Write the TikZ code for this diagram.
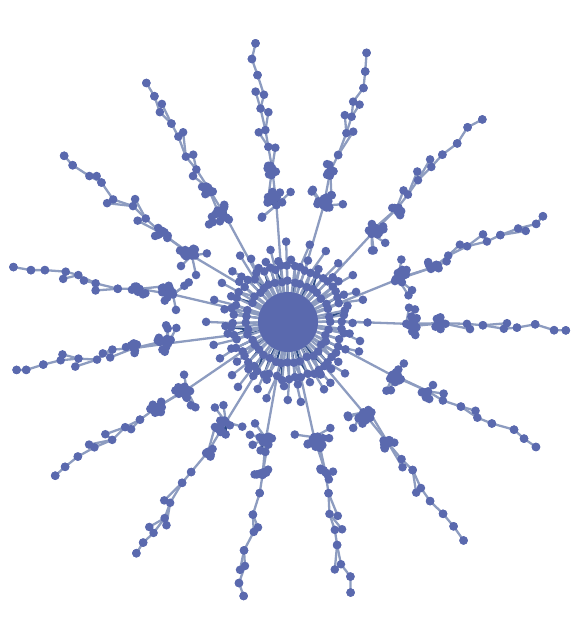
\documentclass[tikz,border=0pt]{standalone}
\usetikzlibrary{calc}
\definecolor{dotc}{HTML}{5A69AE}
\definecolor{edgel}{HTML}{8D9CC0}
\definecolor{edged}{HTML}{2D4C88}
\tikzset{
  dot/.style={circle,fill=dotc,draw=none,inner sep=0pt,minimum size=8.6pt},
  coredisk/.style={circle,fill=dotc,draw=none,inner sep=0pt,minimum size=60pt},
  ledge/.style={draw=edgel,line width=2.3pt},
  dedge/.style={draw=edged,line width=2pt},
}
\begin{document}
\begin{tikzpicture}[x=1pt,y=1pt]
\useasboundingbox (0,0) rectangle (583,623);
\pgfmathsetseed{2024}
\coordinate (C) at (288,301);
% ---------- pass 1: positions and edges ----------
\foreach \i in {0,...,39}{
  \pgfmathsetmacro\ag{\i*9+rand*2}
  \pgfmathsetmacro\rd{41+rand*1.5}
  \pgfmathtruncatemacro\dk{rnd<0.4}
  \coordinate (ra\i) at ($(C)+(\ag:\rd)$);
  \ifnum\dk=1 \draw[dedge] (C) -- (ra\i);
  \else \draw[ledge] (C) -- (ra\i);\fi
}
\foreach \j in {0,...,55}{
  \pgfmathsetmacro\ag{\j/56*360+rand*1.5}
  \pgfmathsetmacro\rd{56+rand*2.5}
  \pgfmathtruncatemacro\n{mod(round(\j/56*40),40)}
  \pgfmathtruncatemacro\dk{rnd<0.4}
  \coordinate (rb\j) at ($(C)+(\ag:\rd)$);
  \ifnum\dk=1 \draw[dedge] (ra\n) -- (rb\j);
  \else \draw[ledge] (ra\n) -- (rb\j);\fi
  \draw[ledge] (C) -- (rb\j);
}
\foreach \j in {0,...,29}{
  \pgfmathsetmacro\ag{\j*12+rand*4}
  \pgfmathsetmacro\rd{63+rand*2}
  \pgfmathtruncatemacro\n{mod(round(\ag/360*56)+560,56)}
  \coordinate (rc\j) at ($(C)+(\ag:\rd)$);
  \draw[ledge] (rb\n) -- (rc\j);
}
\foreach \i in {0,...,27}{
  \pgfmathsetmacro\ag{\i*360/28+rand*5}
  \pgfmathsetmacro\rd{73+rnd*9}
  \pgfmathtruncatemacro\n{mod(round(\ag/360*56)+560,56)}
  \coordinate (o\i) at ($(C)+(\ag:\rd)$);
  \draw[ledge] (rb\n) -- (o\i);
}
\foreach \ang [count=\k] in {-1,-26,-51,-77,-100,-123,-147,-170,168,144,121,97,73,47,22}{
  \pgfmathtruncatemacro\n{mod(round(\ang/360*56)+560,56)}
  \pgfmathsetmacro\rad{119+rand*3}
  \pgfmathsetmacro\off{rand*3}
  \path (C) ++(\ang:\rad) ++(\ang+90:\off) coordinate (A\k);
  \draw[ledge] (rb\n) -- (A\k);
  \foreach \i in {1,...,11}{
    \pgfmathsetmacro\ag{rnd*360}
    \pgfmathsetmacro\rd{2+rnd*7}
    \coordinate (A\k-\i) at ($(A\k)+(\ang:5)+(\ag:\rd)$);
    \draw[dedge] (A\k) -- (A\k-\i);
  }
  \foreach \i in {1,2,3}{
    \pgfmathsetmacro\ag{\ang+(2*(rnd<0.5)-1)*(45+rnd*95)}
    \pgfmathsetmacro\rd{14+rnd*6}
    \coordinate (S\k-\i) at ($(A\k)+(\ag:\rd)$);
    \draw[ledge] (A\k) -- (S\k-\i);
  }
  \pgfmathsetmacro\rad{155+rand*3}
  \pgfmathsetmacro\off{rand*4}
  \path (C) ++(\ang:\rad) ++(\ang+90:\off) coordinate (B\k);
  \draw[ledge] (A\k) -- (B\k);
  \draw[ledge] (A\k-1) -- (B\k);
  \foreach \i in {1,...,7}{
    \pgfmathsetmacro\ag{rnd*360}
    \pgfmathsetmacro\rd{2+rnd*6}
    \coordinate (B\k-\i) at ($(B\k)+(\ag:\rd)$);
    \draw[dedge] (B\k) -- (B\k-\i);
  }
  \foreach \rr [count=\c] in {176,195,213,230,248,265,278}{
    \pgfmathsetmacro\rad{\rr+rand*3}
    \pgfmathsetmacro\off{rand*4}
    \path (C) ++(\ang:\rad) ++(\ang+90:\off) coordinate (K\k-\c);
    \pgfmathtruncatemacro\p{\c-1}
    \ifnum\c=1 \draw[ledge] (B\k) -- (K\k-1);
    \else \draw[ledge] (K\k-\p) -- (K\k-\c);\fi
    \pgfmathtruncatemacro\hc{((rnd<0.4)+(\c==3))*(\c<6)}
    \ifnum\hc>0
      \pgfmathsetmacro\ag{\ang+(2*(rnd<0.5)-1)*(30+rnd*120)}
      \pgfmathsetmacro\rd{6+rnd*3}
      \coordinate (Q\k-\c) at ($(K\k-\c)+(\ag:\rd)$);
      \draw[ledge] (K\k-\c) -- (Q\k-\c);
      \ifnum\c=1 \draw[ledge] (B\k) -- (Q\k-\c);
      \else \draw[ledge] (K\k-\p) -- (Q\k-\c);\fi
    \else
      \coordinate (Q\k-\c) at (K\k-\c);
    \fi
  }
}
% ---------- pass 2: dots ----------
\node[coredisk] (core) at (C) {};
\foreach \i in {0,...,39}{\node[dot] (nra\i) at (ra\i) {};}
\foreach \j in {0,...,55}{\node[dot] (nrb\j) at (rb\j) {};}
\foreach \j in {0,...,29}{\node[dot] (nrc\j) at (rc\j) {};}
\foreach \i in {0,...,27}{\node[dot] (no\i) at (o\i) {};}
\foreach \k in {1,...,15}{
  \node[dot] (nA\k) at (A\k) {};
  \node[dot] (nB\k) at (B\k) {};
  \foreach \i in {1,...,11}{\node[dot] (nA\k-\i) at (A\k-\i) {};}
  \foreach \i in {1,2,3}{\node[dot] (nS\k-\i) at (S\k-\i) {};}
  \foreach \i in {1,...,7}{\node[dot] (nB\k-\i) at (B\k-\i) {};}
  \foreach \c in {1,...,7}{
    \node[dot] (nK\k-\c) at (K\k-\c) {};
    \node[dot] (nQ\k-\c) at (Q\k-\c) {};
  }
}
\end{tikzpicture}
\end{document}
